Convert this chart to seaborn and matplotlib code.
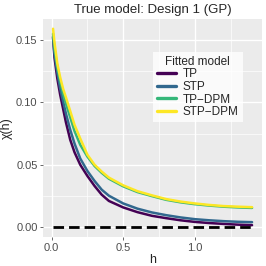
import numpy as np
import pandas as pd
import matplotlib
matplotlib.use("Agg")
import matplotlib.pyplot as plt
import seaborn as sns

h = [0.01, 0.02, 0.04, 0.06, 0.08, 0.10, 0.13, 0.16, 0.20, 0.25, 0.30, 0.35,
     0.40, 0.50, 0.60, 0.70, 0.80, 0.90, 1.00, 1.10, 1.20, 1.30, 1.40]

chi_tp = [0.152, 0.136, 0.119, 0.106, 0.095, 0.084, 0.070, 0.060, 0.050, 0.041,
          0.033, 0.026, 0.021, 0.0158, 0.0120, 0.0091, 0.0072, 0.0055, 0.0042,
          0.0033, 0.0026, 0.0020, 0.0016]
chi_stp = [0.153, 0.139, 0.124, 0.111, 0.101, 0.091, 0.078, 0.067, 0.055, 0.045,
           0.037, 0.030, 0.0252, 0.0190, 0.0148, 0.0118, 0.0096, 0.0078, 0.0064,
           0.0055, 0.0048, 0.0043, 0.0040]
chi_tp_dpm = [0.155, 0.143, 0.128, 0.117, 0.107, 0.099, 0.088, 0.077, 0.066, 0.0565,
              0.049, 0.0435, 0.0388, 0.0327, 0.0281, 0.0249, 0.0219, 0.0199, 0.0184,
              0.0173, 0.0164, 0.0158, 0.0154]
chi_stp_dpm = [0.159, 0.148, 0.131, 0.120, 0.111, 0.104, 0.093, 0.082, 0.071, 0.058,
               0.050, 0.0445, 0.0397, 0.0335, 0.0288, 0.0255, 0.0225, 0.0205, 0.0190,
               0.0178, 0.0169, 0.0164, 0.0160]
true_chi = [0.0] * len(h)

models = ["TP", "STP", "TP\u2212DPM", "STP\u2212DPM"]
series = [chi_tp, chi_stp, chi_tp_dpm, chi_stp_dpm]

rows = []
for m, vals in zip(models, series):
    for hh, v in zip(h, vals):
        rows.append({"h": hh, "chi": v, "model": m})
df = pd.DataFrame(rows)

sns.set_theme(style="darkgrid", rc={
    "axes.facecolor": "#EBEBEB",
    "grid.color": "white",
    "axes.edgecolor": "none",
    "xtick.bottom": True,
    "ytick.left": True,
    "xtick.color": "#4D4D4D",
    "ytick.color": "#4D4D4D",
    "xtick.major.size": 2.5,
    "ytick.major.size": 2.5,
    "xtick.major.width": 0.6,
    "ytick.major.width": 0.6,
    "xtick.major.pad": 1.5,
    "ytick.major.pad": 1.5,
})
plt.rcParams["font.family"] = ["Liberation Sans", "DejaVu Sans"]

fig = plt.figure(figsize=(2.66, 2.66), dpi=100)
ax = fig.add_axes([0.162, 0.109, 0.823, 0.820])

sns.lineplot(data=df, x="h", y="chi", hue="model", hue_order=models,
             palette=["#440154", "#31688E", "#35B779", "#FDE725"],
             linewidth=1.8, ax=ax, legend=True)
ax.plot(h, true_chi, color="black", linestyle=(0, (3.8, 1.8)), linewidth=2.0)

ax.set_xlim(-0.0595, 1.4695)
ax.set_ylim(-0.0079, 0.1669)
ax.set_xticks([0.0, 0.5, 1.0])
ax.set_xticklabels(["0.0", "0.5", "1.0"])
ax.set_yticks([0.0, 0.05, 0.10, 0.15])
ax.set_yticklabels(["0.00", "0.05", "0.10", "0.15"])
ax.set_xticks([0.25, 0.75, 1.25], minor=True)
ax.set_yticks([0.025, 0.075, 0.125], minor=True)
ax.grid(which="major", color="white", linewidth=1.0)
ax.grid(which="minor", color="white", linewidth=0.5)
ax.tick_params(which="minor", length=0)
ax.tick_params(labelsize=8)

ax.set_xlabel("h", fontsize=9, labelpad=1)
ax.set_ylabel("\u03c7(h)", fontsize=9, labelpad=2)
ax.set_title("True model: Design 1 (GP)", fontsize=9.5, pad=4)

leg = ax.legend(title="Fitted model", loc="upper left", bbox_to_anchor=(0.50, 0.85),
                frameon=True, fancybox=False, fontsize=8.5, title_fontsize=8.5,
                handlelength=1.6, handletextpad=0.6, labelspacing=0.05,
                borderpad=0.35, borderaxespad=0)
leg.get_frame().set_facecolor("white")
leg.get_frame().set_edgecolor("none")
for line in leg.get_lines():
    line.set_linewidth(2.4)

fig.savefig("out.png", dpi=100)
